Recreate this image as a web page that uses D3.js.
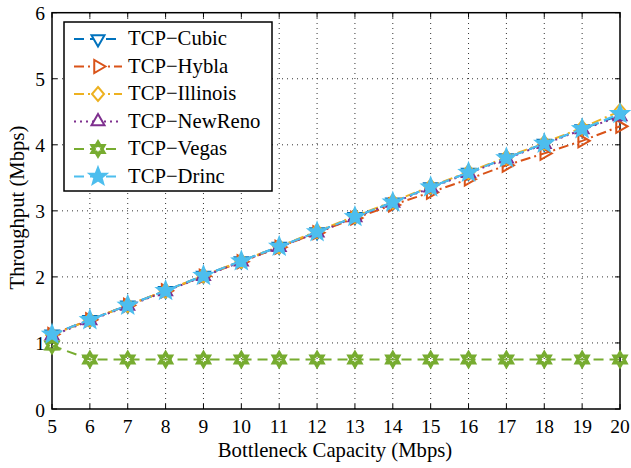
<!DOCTYPE html>
<html>
<head>
<meta charset="utf-8">
<script src="https://cdn.jsdelivr.net/npm/d3@7"></script>
<style>
  body { margin: 0; background: #fff; }
</style>
</head>
<body>
<div id="chart"></div>
<script>
// data
const capacity = [5, 6, 7, 8, 9, 10, 11, 12, 13, 14, 15, 16, 17, 18, 19, 20];
const cubic    = [1.13, 1.35, 1.57, 1.79, 2.02, 2.24, 2.46, 2.68, 2.91, 3.13, 3.36, 3.58, 3.80, 4.02, 4.24, 4.45];
const hybla    = [1.13, 1.35, 1.57, 1.79, 2.01, 2.23, 2.45, 2.67, 2.89, 3.09, 3.28, 3.48, 3.69, 3.87, 4.06, 4.28];
const illinois = [1.12, 1.35, 1.57, 1.79, 2.02, 2.24, 2.46, 2.69, 2.92, 3.14, 3.37, 3.59, 3.81, 4.03, 4.26, 4.51];
const newreno  = [1.11, 1.34, 1.56, 1.78, 2.01, 2.23, 2.45, 2.67, 2.90, 3.12, 3.35, 3.57, 3.79, 4.01, 4.23, 4.43];
const vegas    = [0.96, 0.75, 0.75, 0.75, 0.75, 0.75, 0.75, 0.75, 0.75, 0.75, 0.75, 0.75, 0.75, 0.75, 0.75, 0.75];
const drinc    = [1.13, 1.35, 1.57, 1.79, 2.02, 2.24, 2.46, 2.68, 2.91, 3.13, 3.36, 3.58, 3.80, 4.02, 4.24, 4.47];

const seriesNames = ['TCP\u2212Cubic', 'TCP\u2212Hybla', 'TCP\u2212Illinois', 'TCP\u2212NewReno', 'TCP\u2212Vegas', 'TCP\u2212Drinc'];
const seriesValues = [cubic, hybla, illinois, newreno, vegas, drinc];
const colors = ['#0072BD', '#D95319', '#EDB120', '#7E2F8E', '#77AC30', '#4DBEEE'];
const dashes = ['10,6', '10,4,2,4', '10,4,2,4', '2,4', '10,6', '10,6'];
const markers = ['triDown', 'triRight', 'diamond', 'triUp', 'hexagram', 'star'];
const yTicks = [0, 1, 2, 3, 4, 5, 6];

const FONT = "'Liberation Serif', 'Times New Roman', Times, serif";
const width = 631, height = 468;
const margin = {left: 52, right: 11, top: 12.7, bottom: 59};

const svg = d3.select('#chart').append('svg')
    .attr('width', width)
    .attr('height', height)
    .attr('font-family', FONT);

const x = d3.scaleLinear().domain([5, 20]).range([margin.left, width - margin.right]);
const y = d3.scaleLinear().domain([0, 6]).range([height - margin.bottom, margin.top]);

// grid
const grid = svg.append('g').attr('stroke', '#333').attr('stroke-width', 1).attr('stroke-dasharray', '1,4');
grid.selectAll('.gx').data(capacity.slice(1, -1)).enter().append('line')
    .attr('x1', d => x(d)).attr('x2', d => x(d))
    .attr('y1', y(0)).attr('y2', y(6));
grid.selectAll('.gy').data(yTicks.slice(1, -1)).enter().append('line')
    .attr('x1', x(5)).attr('x2', x(20))
    .attr('y1', d => y(d)).attr('y2', d => y(d));

// ticks on all four sides (inward)
const ticks = svg.append('g').attr('stroke', '#000').attr('stroke-width', 1);
capacity.forEach(d => {
    ticks.append('line').attr('x1', x(d)).attr('x2', x(d)).attr('y1', y(0)).attr('y2', y(0) - 5);
    ticks.append('line').attr('x1', x(d)).attr('x2', x(d)).attr('y1', y(6)).attr('y2', y(6) + 5);
});
yTicks.forEach(d => {
    ticks.append('line').attr('x1', x(5)).attr('x2', x(5) + 5).attr('y1', y(d)).attr('y2', y(d));
    ticks.append('line').attr('x1', x(20)).attr('x2', x(20) - 5).attr('y1', y(d)).attr('y2', y(d));
});

// box
svg.append('rect')
    .attr('x', x(5)).attr('y', y(6))
    .attr('width', x(20) - x(5)).attr('height', y(0) - y(6))
    .attr('fill', 'none').attr('stroke', '#000').attr('stroke-width', 1.5);

// tick labels
svg.selectAll('.xl').data(capacity).enter().append('text')
    .attr('x', d => x(d)).attr('y', y(0) + 24)
    .attr('text-anchor', 'middle').attr('font-size', 19.5)
    .text(d => d);
svg.selectAll('.yl').data(yTicks).enter().append('text')
    .attr('x', x(5) - 7).attr('y', d => y(d) + 7.5)
    .attr('text-anchor', 'end').attr('font-size', 19.5)
    .text(d => d);

// axis titles
svg.append('text')
    .attr('x', 335).attr('y', 457)
    .attr('text-anchor', 'middle').attr('font-size', 20.7)
    .text('Bottleneck Capacity (Mbps)');
svg.append('text')
    .attr('transform', 'translate(24,207.5) rotate(-90)')
    .attr('text-anchor', 'middle').attr('font-size', 20.7)
    .text('Throughput (Mbps)');

function markerPath(type) {
    const p = d3.path();
    if (type === 'triDown' || type === 'triUp' || type === 'triRight') {
        const r = 7.5;
        const base = type === 'triDown' ? Math.PI / 2 : type === 'triUp' ? -Math.PI / 2 : 0;
        for (let i = 0; i < 3; i++) {
            const a = base + i * 2 * Math.PI / 3;
            i === 0 ? p.moveTo(r * Math.cos(a), r * Math.sin(a)) : p.lineTo(r * Math.cos(a), r * Math.sin(a));
        }
        p.closePath();
    } else if (type === 'diamond') {
        p.moveTo(0, -7); p.lineTo(6, 0); p.lineTo(0, 7); p.lineTo(-6, 0); p.closePath();
    } else if (type === 'hexagram') {
        const ro = 6.5, ri = 3.8;
        for (let i = 0; i < 12; i++) {
            const a = -Math.PI / 2 + i * Math.PI / 6;
            const r = i % 2 === 0 ? ro : ri;
            i === 0 ? p.moveTo(r * Math.cos(a), r * Math.sin(a)) : p.lineTo(r * Math.cos(a), r * Math.sin(a));
        }
        p.closePath();
    } else {
        const ro = 9, ri = 3.8;
        for (let i = 0; i < 10; i++) {
            const a = -Math.PI / 2 + i * Math.PI / 5;
            const r = i % 2 === 0 ? ro : ri;
            i === 0 ? p.moveTo(r * Math.cos(a), r * Math.sin(a)) : p.lineTo(r * Math.cos(a), r * Math.sin(a));
        }
        p.closePath();
    }
    return p.toString();
}

const line = d3.line().x((d, i) => x(capacity[i])).y(d => y(d));

seriesValues.forEach((vals, k) => {
    const g = svg.append('g');
    g.append('path')
        .datum(vals)
        .attr('d', line)
        .attr('fill', 'none')
        .attr('stroke', colors[k])
        .attr('stroke-width', 2)
        .attr('stroke-dasharray', dashes[k]);
    g.selectAll('.m').data(vals).enter().append('path')
        .attr('transform', (d, i) => `translate(${x(capacity[i])},${y(d)})`)
        .attr('d', markerPath(markers[k]))
        .attr('fill', markers[k] === 'star' ? colors[k] : 'none')
        .attr('stroke', colors[k])
        .attr('stroke-width', markers[k] === 'hexagram' ? 3.5 : 2);
});

// legend
const legend = svg.append('g');
legend.append('rect')
    .attr('x', 64).attr('y', 22).attr('width', 208).attr('height', 169)
    .attr('fill', '#fff').attr('stroke', '#000').attr('stroke-width', 1.5);
seriesNames.forEach((name, k) => {
    const ly = 39 + k * 27.5;
    legend.append('line')
        .attr('x1', 74).attr('x2', 122).attr('y1', ly).attr('y2', ly)
        .attr('stroke', colors[k]).attr('stroke-width', 2)
        .attr('stroke-dasharray', dashes[k]);
    legend.append('path')
        .attr('transform', `translate(98,${ly})`)
        .attr('d', markerPath(markers[k]))
        .attr('fill', markers[k] === 'star' ? colors[k] : '#fff')
        .attr('stroke', colors[k])
        .attr('stroke-width', markers[k] === 'hexagram' ? 3.5 : 2);
    legend.append('text')
        .attr('x', 128).attr('y', ly + 6)
        .attr('font-size', 20.7)
        .text(name);
});
</script>
</body>
</html>
